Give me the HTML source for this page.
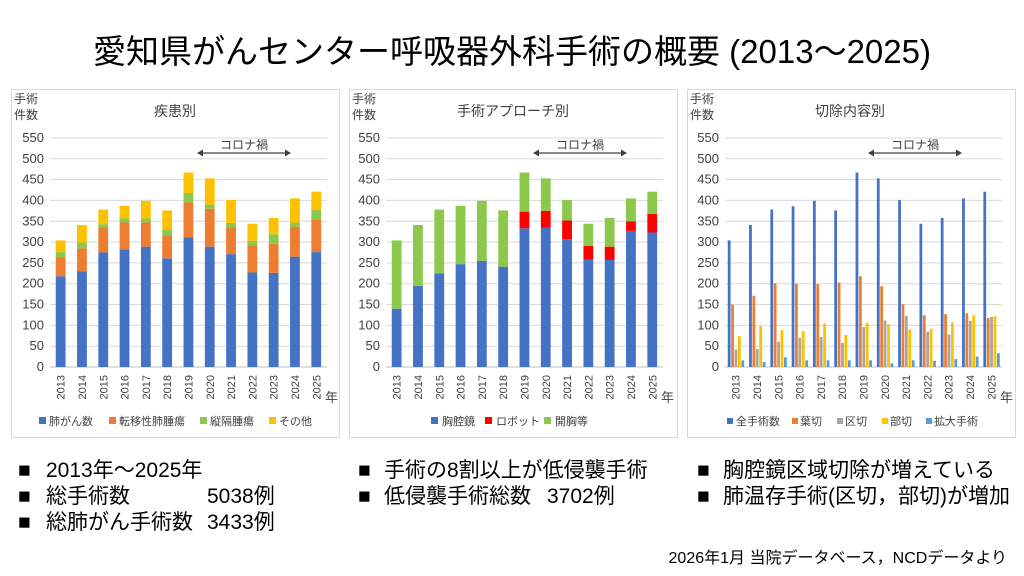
<!DOCTYPE html>
<html><head><meta charset="utf-8"><style>
html,body{margin:0;padding:0;background:#fff;}
svg{display:block;font-family:"Liberation Sans","Noto Sans CJK JP",sans-serif;}
</style></head><body>
<svg width="1024" height="576" viewBox="0 0 1024 576" xmlns="http://www.w3.org/2000/svg">
<defs>
<g id="grid" stroke="#d9d9d9" stroke-width="1">
<line x1="0" x2="277" y1="-20.8" y2="-20.8"/><line x1="0" x2="277" y1="-41.6" y2="-41.6"/>
<line x1="0" x2="277" y1="-62.5" y2="-62.5"/><line x1="0" x2="277" y1="-83.3" y2="-83.3"/>
<line x1="0" x2="277" y1="-104.1" y2="-104.1"/><line x1="0" x2="277" y1="-124.9" y2="-124.9"/>
<line x1="0" x2="277" y1="-145.7" y2="-145.7"/><line x1="0" x2="277" y1="-166.6" y2="-166.6"/>
<line x1="0" x2="277" y1="-187.4" y2="-187.4"/><line x1="0" x2="277" y1="-208.2" y2="-208.2"/>
<line x1="0" x2="277" y1="-229" y2="-229"/>
<line x1="0" x2="277" y1="0" y2="0" stroke="#bfbfbf"/>
</g>
<g id="yt" font-size="13" fill="#404040" text-anchor="end">
<text x="-6" y="4">0</text><text x="-6" y="-16.8">50</text><text x="-6" y="-37.6">100</text>
<text x="-6" y="-58.5">150</text><text x="-6" y="-79.3">200</text><text x="-6" y="-100.1">250</text>
<text x="-6" y="-120.9">300</text><text x="-6" y="-141.7">350</text><text x="-6" y="-162.6">400</text>
<text x="-6" y="-183.4">450</text><text x="-6" y="-204.2">500</text><text x="-6" y="-225">550</text>
</g>
<g id="xt" font-size="11" fill="#404040" text-anchor="end">
<text transform="translate(14.7,8) rotate(-90)">2013</text>
<text transform="translate(36,8) rotate(-90)">2014</text>
<text transform="translate(57.3,8) rotate(-90)">2015</text>
<text transform="translate(78.6,8) rotate(-90)">2016</text>
<text transform="translate(99.9,8) rotate(-90)">2017</text>
<text transform="translate(121.2,8) rotate(-90)">2018</text>
<text transform="translate(142.5,8) rotate(-90)">2019</text>
<text transform="translate(163.8,8) rotate(-90)">2020</text>
<text transform="translate(185.1,8) rotate(-90)">2021</text>
<text transform="translate(206.4,8) rotate(-90)">2022</text>
<text transform="translate(227.7,8) rotate(-90)">2023</text>
<text transform="translate(249,8) rotate(-90)">2024</text>
<text transform="translate(270.3,8) rotate(-90)">2025</text>
<text x="288" y="35" text-anchor="end" font-size="13">年</text>
</g>
<g id="corona">
<line x1="150" x2="238" y1="-214" y2="-214" stroke="#404040" stroke-width="1.2"/>
<path d="M147,-214 l6,-3.5 v7z M241,-214 l-6,-3.5 v7z" fill="#404040"/>
<text x="194" y="-218" font-size="12" fill="#404040" text-anchor="middle">コロナ禍</text>
</g>
</defs>

<text x="512" y="63" font-size="33" text-anchor="middle" fill="#000">愛知県がんセンター呼吸器外科手術の概要 (2013〜2025)</text>

<!-- Panel 1 -->
<rect x="11.5" y="89.5" width="328" height="348" fill="#fff" stroke="#d9d9d9"/>
<text x="14" y="103" font-size="12" fill="#404040">手術</text>
<text x="14" y="119" font-size="12" fill="#404040">件数</text>
<text x="175" y="116" font-size="14" fill="#404040" text-anchor="middle">疾患別</text>
<g transform="translate(50,367)">
<use href="#grid"/><use href="#yt"/><use href="#xt"/><use href="#corona"/>
<g transform="scale(21.3,-0.4164)">
<g fill="#4472C4"><rect x="0.27" y="0" width="0.46" height="218"/><rect x="1.27" y="0" width="0.46" height="230"/><rect x="2.27" y="0" width="0.46" height="275"/><rect x="3.27" y="0" width="0.46" height="282"/><rect x="4.27" y="0" width="0.46" height="289"/><rect x="5.27" y="0" width="0.46" height="261"/><rect x="6.27" y="0" width="0.46" height="311"/><rect x="7.27" y="0" width="0.46" height="289"/><rect x="8.27" y="0" width="0.46" height="271"/><rect x="9.27" y="0" width="0.46" height="227"/><rect x="10.27" y="0" width="0.46" height="226"/><rect x="11.27" y="0" width="0.46" height="265"/><rect x="12.27" y="0" width="0.46" height="276"/></g>
<g fill="#ED7D31"><rect x="0.27" y="218" width="0.46" height="45"/><rect x="1.27" y="230" width="0.46" height="55"/><rect x="2.27" y="275" width="0.46" height="60"/><rect x="3.27" y="282" width="0.46" height="65"/><rect x="4.27" y="289" width="0.46" height="58"/><rect x="5.27" y="261" width="0.46" height="55"/><rect x="6.27" y="311" width="0.46" height="84"/><rect x="7.27" y="289" width="0.46" height="91"/><rect x="8.27" y="271" width="0.46" height="64"/><rect x="9.27" y="227" width="0.46" height="65"/><rect x="10.27" y="226" width="0.46" height="70"/><rect x="11.27" y="265" width="0.46" height="72"/><rect x="12.27" y="276" width="0.46" height="79"/></g>
<g fill="#8CC84B"><rect x="0.27" y="263" width="0.46" height="13"/><rect x="1.27" y="285" width="0.46" height="14"/><rect x="2.27" y="335" width="0.46" height="8"/><rect x="3.27" y="347" width="0.46" height="10"/><rect x="4.27" y="347" width="0.46" height="10"/><rect x="5.27" y="316" width="0.46" height="15"/><rect x="6.27" y="395" width="0.46" height="23"/><rect x="7.27" y="380" width="0.46" height="10"/><rect x="8.27" y="335" width="0.46" height="11"/><rect x="9.27" y="292" width="0.46" height="11"/><rect x="10.27" y="296" width="0.46" height="23"/><rect x="11.27" y="337" width="0.46" height="10"/><rect x="12.27" y="355" width="0.46" height="23"/></g>
<g fill="#FFC000"><rect x="0.27" y="276" width="0.46" height="28"/><rect x="1.27" y="299" width="0.46" height="42"/><rect x="2.27" y="343" width="0.46" height="35"/><rect x="3.27" y="357" width="0.46" height="30"/><rect x="4.27" y="357" width="0.46" height="42"/><rect x="5.27" y="331" width="0.46" height="45"/><rect x="6.27" y="418" width="0.46" height="49"/><rect x="7.27" y="390" width="0.46" height="63"/><rect x="8.27" y="346" width="0.46" height="55"/><rect x="9.27" y="303" width="0.46" height="41"/><rect x="10.27" y="319" width="0.46" height="39"/><rect x="11.27" y="347" width="0.46" height="58"/><rect x="12.27" y="378" width="0.46" height="43"/></g>
</g></g>
<g font-size="11" fill="#404040">
<rect x="39" y="417" width="7" height="7" fill="#4472C4"/><text x="49" y="425">肺がん数</text>
<rect x="109" y="417" width="7" height="7" fill="#ED7D31"/><text x="119" y="425">転移性肺腫瘍</text>
<rect x="200" y="417" width="7" height="7" fill="#8CC84B"/><text x="210" y="425">縦隔腫瘍</text>
<rect x="269" y="417" width="7" height="7" fill="#FFC000"/><text x="279" y="425">その他</text>
</g>

<!-- Panel 2 -->
<rect x="349.5" y="89.5" width="328" height="348" fill="#fff" stroke="#d9d9d9"/>
<text x="352" y="103" font-size="12" fill="#404040">手術</text>
<text x="352" y="119" font-size="12" fill="#404040">件数</text>
<text x="513" y="116" font-size="14" fill="#404040" text-anchor="middle">手術アプローチ別</text>
<g transform="translate(386,367)">
<use href="#grid"/><use href="#yt"/><use href="#xt"/><use href="#corona"/>
<g transform="scale(21.3,-0.4164)">
<g fill="#4472C4"><rect x="0.27" y="0" width="0.46" height="140"/><rect x="1.27" y="0" width="0.46" height="195"/><rect x="2.27" y="0" width="0.46" height="225"/><rect x="3.27" y="0" width="0.46" height="247"/><rect x="4.27" y="0" width="0.46" height="255"/><rect x="5.27" y="0" width="0.46" height="241"/><rect x="6.27" y="0" width="0.46" height="333"/><rect x="7.27" y="0" width="0.46" height="335"/><rect x="8.27" y="0" width="0.46" height="307"/><rect x="9.27" y="0" width="0.46" height="258"/><rect x="10.27" y="0" width="0.46" height="257"/><rect x="11.27" y="0" width="0.46" height="327"/><rect x="12.27" y="0" width="0.46" height="323"/></g>
<g fill="#FF0000"><rect x="6.27" y="333" width="0.46" height="40"/><rect x="7.27" y="335" width="0.46" height="40"/><rect x="8.27" y="307" width="0.46" height="45"/><rect x="9.27" y="258" width="0.46" height="33"/><rect x="10.27" y="257" width="0.46" height="32"/><rect x="11.27" y="327" width="0.46" height="23"/><rect x="12.27" y="323" width="0.46" height="45"/></g>
<g fill="#8CC84B"><rect x="0.27" y="140" width="0.46" height="164"/><rect x="1.27" y="195" width="0.46" height="146"/><rect x="2.27" y="225" width="0.46" height="153"/><rect x="3.27" y="247" width="0.46" height="140"/><rect x="4.27" y="255" width="0.46" height="144"/><rect x="5.27" y="241" width="0.46" height="135"/><rect x="6.27" y="373" width="0.46" height="94"/><rect x="7.27" y="375" width="0.46" height="78"/><rect x="8.27" y="352" width="0.46" height="49"/><rect x="9.27" y="291" width="0.46" height="53"/><rect x="10.27" y="289" width="0.46" height="69"/><rect x="11.27" y="350" width="0.46" height="55"/><rect x="12.27" y="368" width="0.46" height="53"/></g>
</g></g>
<g font-size="11" fill="#404040">
<rect x="431" y="417" width="7" height="7" fill="#4472C4"/><text x="442" y="425">胸腔鏡</text>
<rect x="485" y="417" width="7" height="7" fill="#FF0000"/><text x="496" y="425">ロボット</text>
<rect x="544" y="417" width="7" height="7" fill="#8CC84B"/><text x="555" y="425">開胸等</text>
</g>

<!-- Panel 3 -->
<rect x="687.5" y="89.5" width="328" height="348" fill="#fff" stroke="#d9d9d9"/>
<text x="690" y="103" font-size="12" fill="#404040">手術</text>
<text x="690" y="119" font-size="12" fill="#404040">件数</text>
<text x="850" y="116" font-size="14" fill="#404040" text-anchor="middle">切除内容別</text>
<g transform="translate(725,367)">
<use href="#grid"/><use href="#yt"/><use href="#xt"/>
<g transform="translate(-4,0)"><use href="#corona"/></g>
<g transform="scale(21.3,-0.4164)">
<g fill="#4472C4"><rect x="0.13" y="0" width="0.13" height="304"/><rect x="1.13" y="0" width="0.13" height="341"/><rect x="2.13" y="0" width="0.13" height="378"/><rect x="3.13" y="0" width="0.13" height="386"/><rect x="4.13" y="0" width="0.13" height="399"/><rect x="5.13" y="0" width="0.13" height="376"/><rect x="6.13" y="0" width="0.13" height="467"/><rect x="7.13" y="0" width="0.13" height="453"/><rect x="8.13" y="0" width="0.13" height="401"/><rect x="9.13" y="0" width="0.13" height="344"/><rect x="10.13" y="0" width="0.13" height="358"/><rect x="11.13" y="0" width="0.13" height="405"/><rect x="12.13" y="0" width="0.13" height="421"/></g>
<g fill="#ED7D31"><rect x="0.29" y="0" width="0.13" height="150"/><rect x="1.29" y="0" width="0.13" height="171"/><rect x="2.29" y="0" width="0.13" height="201"/><rect x="3.29" y="0" width="0.13" height="200"/><rect x="4.29" y="0" width="0.13" height="199"/><rect x="5.29" y="0" width="0.13" height="203"/><rect x="6.29" y="0" width="0.13" height="218"/><rect x="7.29" y="0" width="0.13" height="194"/><rect x="8.29" y="0" width="0.13" height="151"/><rect x="9.29" y="0" width="0.13" height="124"/><rect x="10.29" y="0" width="0.13" height="127"/><rect x="11.29" y="0" width="0.13" height="129"/><rect x="12.29" y="0" width="0.13" height="118"/></g>
<g fill="#A5A5A5"><rect x="0.45" y="0" width="0.13" height="42"/><rect x="1.45" y="0" width="0.13" height="43"/><rect x="2.45" y="0" width="0.13" height="61"/><rect x="3.45" y="0" width="0.13" height="70"/><rect x="4.45" y="0" width="0.13" height="72"/><rect x="5.45" y="0" width="0.13" height="58"/><rect x="6.45" y="0" width="0.13" height="96"/><rect x="7.45" y="0" width="0.13" height="112"/><rect x="8.45" y="0" width="0.13" height="123"/><rect x="9.45" y="0" width="0.13" height="85"/><rect x="10.45" y="0" width="0.13" height="78"/><rect x="11.45" y="0" width="0.13" height="111"/><rect x="12.45" y="0" width="0.13" height="120"/></g>
<g fill="#FFC000"><rect x="0.61" y="0" width="0.13" height="74"/><rect x="1.61" y="0" width="0.13" height="98"/><rect x="2.61" y="0" width="0.13" height="89"/><rect x="3.61" y="0" width="0.13" height="86"/><rect x="4.61" y="0" width="0.13" height="105"/><rect x="5.61" y="0" width="0.13" height="77"/><rect x="6.61" y="0" width="0.13" height="106"/><rect x="7.61" y="0" width="0.13" height="103"/><rect x="8.61" y="0" width="0.13" height="90"/><rect x="9.61" y="0" width="0.13" height="92"/><rect x="10.61" y="0" width="0.13" height="107"/><rect x="11.61" y="0" width="0.13" height="124"/><rect x="12.61" y="0" width="0.13" height="122"/></g>
<g fill="#5B9BD5"><rect x="0.77" y="0" width="0.13" height="16"/><rect x="1.77" y="0" width="0.13" height="12"/><rect x="2.77" y="0" width="0.13" height="23"/><rect x="3.77" y="0" width="0.13" height="16"/><rect x="4.77" y="0" width="0.13" height="16"/><rect x="5.77" y="0" width="0.13" height="16"/><rect x="6.77" y="0" width="0.13" height="16"/><rect x="7.77" y="0" width="0.13" height="9"/><rect x="8.77" y="0" width="0.13" height="16"/><rect x="9.77" y="0" width="0.13" height="15"/><rect x="10.77" y="0" width="0.13" height="19"/><rect x="11.77" y="0" width="0.13" height="25"/><rect x="12.77" y="0" width="0.13" height="33"/></g>
</g></g>
<g font-size="11" fill="#404040">
<rect x="727" y="418" width="6" height="6" fill="#4472C4"/><text x="736" y="425">全手術数</text>
<rect x="792" y="418" width="6" height="6" fill="#ED7D31"/><text x="800" y="425">葉切</text>
<rect x="837" y="418" width="6" height="6" fill="#A5A5A5"/><text x="845" y="425">区切</text>
<rect x="882" y="418" width="6" height="6" fill="#FFC000"/><text x="890" y="425">部切</text>
<rect x="926" y="418" width="6" height="6" fill="#5B9BD5"/><text x="934" y="425">拡大手術</text>
</g>

<!-- Bottom notes -->
<g font-size="21" fill="#000">
<text x="18" y="477">■</text><text x="46" y="477">2013年～2025年</text>
<text x="18" y="503">■</text><text x="46" y="503">総手術数</text><text x="207" y="503">5038例</text>
<text x="18" y="529">■</text><text x="46" y="529">総肺がん手術数</text><text x="207" y="529">3433例</text>
<text x="358" y="477">■</text><text x="384" y="477">手術の8割以上が低侵襲手術</text>
<text x="358" y="503">■</text><text x="384" y="503">低侵襲手術総数</text><text x="547" y="503">3702例</text>
<text x="697" y="477">■</text><text x="723" y="477">胸腔鏡区域切除が増えている</text>
<text x="697" y="503">■</text><text x="723" y="503">肺温存手術(区切，部切)が増加</text>
</g>
<text x="1007" y="563" font-size="16" fill="#000" text-anchor="end">2026年1月  当院データベース，NCDデータより</text>
</svg>
</body></html>
